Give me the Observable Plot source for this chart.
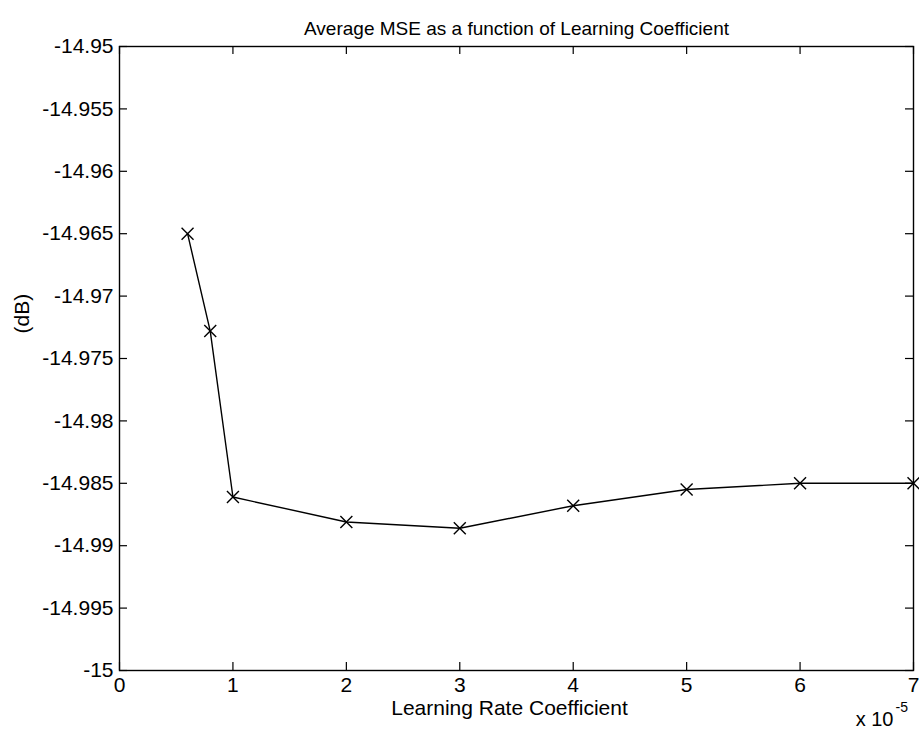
<!DOCTYPE html>
<html>
<head>
<meta charset="utf-8">
<script src="https://cdn.jsdelivr.net/npm/d3@7"></script>
<script src="https://cdn.jsdelivr.net/npm/@observablehq/plot@0.6"></script>
<style>
  html, body { margin: 0; padding: 0; background: white; }
</style>
</head>
<body>
<div id="chart"></div>
<script>
// Data (learning rate in units of 1e-5)
const learningRate = [0.6, 0.8, 1, 2, 3, 4, 5, 6, 7];
const mseDb = [-14.965, -14.9728, -14.9861, -14.9881, -14.9886, -14.9868, -14.9855, -14.9850, -14.9850];

const xTicks = [0, 1, 2, 3, 4, 5, 6, 7];
const xTickLabels = ["0", "1", "2", "3", "4", "5", "6", "7"];
const yTicks = [-15, -14.995, -14.99, -14.985, -14.98, -14.975, -14.97, -14.965, -14.96, -14.955, -14.95];
const yTickLabels = ["-15", "-14.995", "-14.99", "-14.985", "-14.98", "-14.975", "-14.97", "-14.965", "-14.96", "-14.955", "-14.95"];

const titleText = "Average MSE as a function of Learning Coefficient";
const xLabelText = "Learning Rate Coefficient";
const yLabelText = "(dB)";
const exponentBase = "x 10";
const exponentPower = "-5";

const data = learningRate.map((x, i) => ({x, y: mseDb[i]}));

const W = 919, H = 734;
const mL = 119, mR = 6, mT = 46, mB = 64;
const innerW = W - mL - mR, innerH = H - mT - mB;
const tickLen = 8;
const FS = 21;

const chart = Plot.plot({
  width: W,
  height: H,
  marginLeft: mL,
  marginRight: mR,
  marginTop: mT,
  marginBottom: mB,
  style: {fontFamily: "'Liberation Sans', Arial, Helvetica, sans-serif", fontSize: FS + "px", background: "white", color: "black"},
  x: {domain: [0, 7]},
  y: {domain: [-15, -14.95]},
  marks: [
    Plot.frame({stroke: "black", strokeWidth: 1.4}),
    // inward ticks on all four sides
    Plot.tickX(xTicks, {x: d => d, insetTop: innerH - tickLen, stroke: "black", strokeWidth: 1.2}),
    Plot.tickX(xTicks, {x: d => d, insetBottom: innerH - tickLen, stroke: "black", strokeWidth: 1.2}),
    Plot.tickY(yTicks, {y: d => d, insetRight: innerW - tickLen, stroke: "black", strokeWidth: 1.2}),
    Plot.tickY(yTicks, {y: d => d, insetLeft: innerW - tickLen, stroke: "black", strokeWidth: 1.2}),
    Plot.axisX({ticks: xTicks, tickSize: 0, tickPadding: 7, fontSize: FS, label: null,
      tickFormat: d => xTickLabels[xTicks.indexOf(d)]}),
    Plot.axisY({ticks: yTicks, tickSize: 0, tickPadding: 6, fontSize: FS, label: null,
      tickFormat: d => yTickLabels[yTicks.findIndex(t => Math.abs(t - d) < 1e-9)]}),
    Plot.line(data, {x: "x", y: "y", stroke: "black", strokeWidth: 1.4}),
    Plot.dot(data, {x: "x", y: "y", symbol: "times", r: 5.5, stroke: "black", strokeWidth: 1.4}),
    Plot.text([titleText], {frameAnchor: "top", dy: -25, fontSize: 19, fill: "black"}),
    Plot.text([xLabelText], {frameAnchor: "bottom", dy: 44, dx: -7, fontSize: FS, fill: "black"}),
    Plot.text([yLabelText], {frameAnchor: "left", dx: -97, dy: -25, rotate: -90, fontSize: FS, fill: "black"}),
    Plot.text([exponentBase], {frameAnchor: "bottom-right", dx: -20, dy: 55, textAnchor: "end", fontSize: 20, fill: "black"}),
    Plot.text([exponentPower], {frameAnchor: "bottom-right", dx: -18, dy: 41, textAnchor: "start", fontSize: 14, fill: "black"})
  ]
});
document.getElementById("chart").appendChild(chart);
</script>
</body>
</html>
